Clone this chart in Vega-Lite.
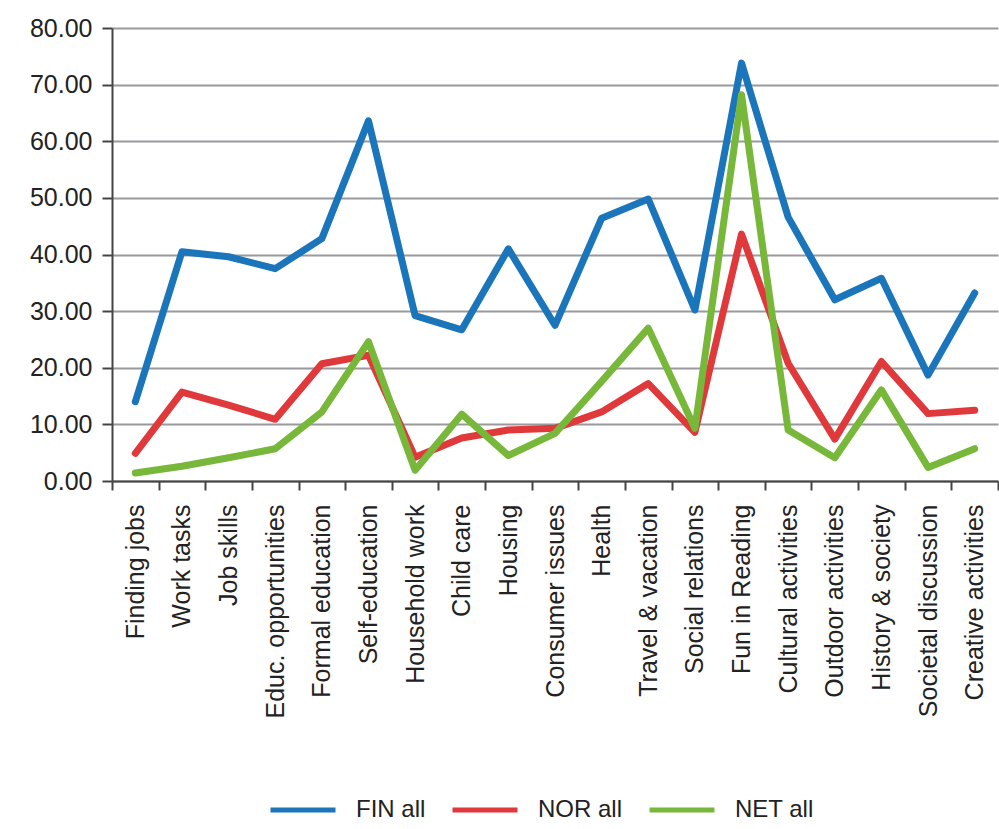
{
  "$schema": "https://vega.github.io/schema/vega-lite/v6.json",
  "width": 886,
  "height": 453,
  "autosize": {"type": "none"},
  "padding": {"left": 112, "top": 28, "right": 1, "bottom": 348},
  "background": "white",
  "config": {
    "font": "Liberation Sans",
    "view": {"stroke": null}
  },
  "data": {
    "values": [
      {"topic": "Finding jobs", "series": "FIN all", "value": 14.0},
      {"topic": "Work tasks", "series": "FIN all", "value": 40.5},
      {"topic": "Job skills", "series": "FIN all", "value": 39.6},
      {"topic": "Educ. opportunities", "series": "FIN all", "value": 37.5},
      {"topic": "Formal education", "series": "FIN all", "value": 42.8},
      {"topic": "Self-education", "series": "FIN all", "value": 63.6},
      {"topic": "Household work", "series": "FIN all", "value": 29.2},
      {"topic": "Child care", "series": "FIN all", "value": 26.7},
      {"topic": "Housing", "series": "FIN all", "value": 41.0},
      {"topic": "Consumer issues", "series": "FIN all", "value": 27.5},
      {"topic": "Health", "series": "FIN all", "value": 46.4},
      {"topic": "Travel & vacation", "series": "FIN all", "value": 49.8},
      {"topic": "Social relations", "series": "FIN all", "value": 30.2},
      {"topic": "Fun in Reading", "series": "FIN all", "value": 73.8},
      {"topic": "Cultural activities", "series": "FIN all", "value": 46.6},
      {"topic": "Outdoor activities", "series": "FIN all", "value": 32.0},
      {"topic": "History & society", "series": "FIN all", "value": 35.8},
      {"topic": "Societal discussion", "series": "FIN all", "value": 18.7},
      {"topic": "Creative activities", "series": "FIN all", "value": 33.2},
      {"topic": "Finding jobs", "series": "NOR all", "value": 4.9},
      {"topic": "Work tasks", "series": "NOR all", "value": 15.7},
      {"topic": "Job skills", "series": "NOR all", "value": 13.4},
      {"topic": "Educ. opportunities", "series": "NOR all", "value": 10.9},
      {"topic": "Formal education", "series": "NOR all", "value": 20.7},
      {"topic": "Self-education", "series": "NOR all", "value": 22.2},
      {"topic": "Household work", "series": "NOR all", "value": 4.2},
      {"topic": "Child care", "series": "NOR all", "value": 7.6},
      {"topic": "Housing", "series": "NOR all", "value": 9.0},
      {"topic": "Consumer issues", "series": "NOR all", "value": 9.3},
      {"topic": "Health", "series": "NOR all", "value": 12.2},
      {"topic": "Travel & vacation", "series": "NOR all", "value": 17.2},
      {"topic": "Social relations", "series": "NOR all", "value": 8.6},
      {"topic": "Fun in Reading", "series": "NOR all", "value": 43.6},
      {"topic": "Cultural activities", "series": "NOR all", "value": 20.8},
      {"topic": "Outdoor activities", "series": "NOR all", "value": 7.4},
      {"topic": "History & society", "series": "NOR all", "value": 21.1},
      {"topic": "Societal discussion", "series": "NOR all", "value": 11.9},
      {"topic": "Creative activities", "series": "NOR all", "value": 12.5},
      {"topic": "Finding jobs", "series": "NET all", "value": 1.4},
      {"topic": "Work tasks", "series": "NET all", "value": 2.6},
      {"topic": "Job skills", "series": "NET all", "value": 4.1},
      {"topic": "Educ. opportunities", "series": "NET all", "value": 5.7},
      {"topic": "Formal education", "series": "NET all", "value": 12.2},
      {"topic": "Self-education", "series": "NET all", "value": 24.6},
      {"topic": "Household work", "series": "NET all", "value": 1.9},
      {"topic": "Child care", "series": "NET all", "value": 11.8},
      {"topic": "Housing", "series": "NET all", "value": 4.5},
      {"topic": "Consumer issues", "series": "NET all", "value": 8.4},
      {"topic": "Health", "series": "NET all", "value": 17.6},
      {"topic": "Travel & vacation", "series": "NET all", "value": 27.0},
      {"topic": "Social relations", "series": "NET all", "value": 9.3},
      {"topic": "Fun in Reading", "series": "NET all", "value": 68.2},
      {"topic": "Cultural activities", "series": "NET all", "value": 9.0},
      {"topic": "Outdoor activities", "series": "NET all", "value": 4.1},
      {"topic": "History & society", "series": "NET all", "value": 16.1},
      {"topic": "Societal discussion", "series": "NET all", "value": 2.4},
      {"topic": "Creative activities", "series": "NET all", "value": 5.7}
    ]
  },
  "mark": {"type": "line", "strokeWidth": 7, "strokeJoin": "round", "strokeCap": "round"},
  "encoding": {
    "x": {
      "field": "topic",
      "type": "nominal",
      "sort": null,
      "scale": {"type": "band", "paddingInner": 0, "paddingOuter": 0},
      "axis": {
        "title": null,
        "labelAngle": 270,
        "labelAlign": "right",
        "labelBaseline": "middle",
        "labelFontSize": 25,
        "labelColor": "#222",
        "labelPadding": 14,
        "tickBand": "extent",
        "tickSize": 9,
        "tickWidth": 2,
        "tickColor": "#444",
        "domainColor": "#444",
        "domainWidth": 2,
        "labelLimit": 400
      }
    },
    "y": {
      "field": "value",
      "type": "quantitative",
      "scale": {"domain": [0, 80], "nice": false},
      "axis": {
        "title": null,
        "values": [0, 10, 20, 30, 40, 50, 60, 70, 80],
        "format": ".2f",
        "labelFontSize": 25,
        "labelColor": "#222",
        "labelPadding": 10,
        "tickSize": 10,
        "tickWidth": 2,
        "tickColor": "#444",
        "domainColor": "#444",
        "domainWidth": 2,
        "grid": true,
        "gridColor": "#9a9a9e",
        "gridWidth": 2
      }
    },
    "color": {
      "field": "series",
      "type": "nominal",
      "sort": ["FIN all", "NOR all", "NET all"],
      "scale": {"domain": ["FIN all", "NOR all", "NET all"], "range": ["#1b75bb", "#e0393c", "#77b83a"]},
      "legend": {
        "title": null,
        "orient": "none",
        "legendX": 156,
        "legendY": 747,
        "direction": "horizontal",
        "symbolType": "stroke",
        "symbolSize": 4225,
        "symbolStrokeWidth": 5,
        "labelFontSize": 24,
        "labelColor": "#222",
        "labelOffset": 18,
        "columnPadding": 16
      }
    }
  }
}
